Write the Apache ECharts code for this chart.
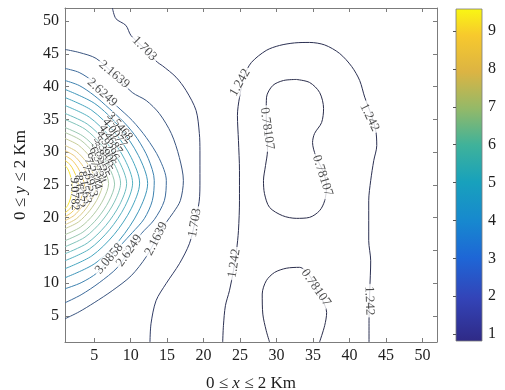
<!DOCTYPE html>
<html><head><meta charset="utf-8">
<style>html,body{margin:0;padding:0;background:#fff}#c{width:505px;height:390px}</style>
<script src="https://cdn.jsdelivr.net/npm/echarts@6/dist/echarts.min.js"></script>
</head><body><div id="c"></div>
<script>
// ---------------- data ----------------
const xTicks = [5, 10, 15, 20, 25, 30, 35, 40, 45, 50];
const yTicks = [5, 10, 15, 20, 25, 30, 35, 40, 45, 50];
const cbTicks = [1, 2, 3, 4, 5, 6, 7, 8, 9];
const cbRange = [0.82, 9.58];

const levelText = ['0.78107','1.242','1.703','2.1639','2.6249','3.0858','3.5468','4.0077','4.4687',
  '4.9296','5.3906','5.8515','6.3125','6.7734','7.2344','7.6953','8.1563','8.6172','9.0782'];

// contour polylines (x, y in km-grid units)
const c0781a = [[32.71,41.09],[34.53,40.63],[35.91,39.1],[36.45,36.65],[36.18,34.51],[35.21,32.83],[34.94,31.45],
  [35.36,29.46],[36.32,27.17],[36.87,24.88],[36.6,22.58],[35.91,21.06],[34.53,20.03],[32.71,19.88],[30.82,20.29],
  [29.04,21.56],[28.35,23.65],[28.21,25.64],[28.49,27.94],[28.76,30.23],[28.63,33.29],[28.59,36.35],[28.63,38.38],
  [29.49,40.17],[30.96,40.93],[32.71,41.09]];
const c0781b = [[29.04,1],[28.59,2.72],[28.12,5.26],[28.04,8.32],[28.59,10.35],[29.73,11.62],[31.33,12.26],
  [33.16,12.4],[34.5,11.2],[35.36,9.28],[36.3,7.4],[36.87,5.5],[36.6,3.5],[35.9,1]];
const c1242 = [[22.62,1],[22.72,3.49],[22.99,6.54],[23.54,8.82],[24.09,11.88],[24.51,14.94],[24.78,18.0],
  [24.92,22.58],[24.92,27.17],[24.78,31.76],[24.64,35.58],[24.92,38.33],[25.6,41.7],[26.57,43.7],[28.59,45.52],
  [30.41,46.28],[32.47,46.67],[34.53,46.74],[36.6,46.36],[38.65,45.06],[40.3,43.07],[41.4,40.93],[42.09,38.38],
  [42.78,36.35],[43.6,33.29],[43.74,31.0],[43.33,28.7],[42.91,25.64],[42.64,22.58],[42.64,16.47],[42.91,13.4],
  [42.78,8.82],[42.68,4.24],[42.68,1]];
const c1703 = [[7.5,52],[7.98,50.37],[9.35,49.34],[10.04,47.81],[11.9,45.8],[13.65,43.73],[14.34,43.2],
  [16.22,41.44],[17.6,39.4],[18.97,36.36],[19.42,32.83],[19.5,30.2],[19.5,25.6],[19.4,22.5],[18.8,19.2],
  [18.05,16.0],[16.68,12.95],[14.85,9.9],[13.48,7.3],[12.79,3.78],[12.65,1]];
const c2164 = [[1,45.67],[2.94,45.21],[5.27,44.3],[7.75,41.85],[10.22,39.1],[12.14,37.87],[13.93,35.89],
  [15.58,32.83],[16.68,29.16],[17.23,25.64],[16.81,22.58],[15.85,20.76],[14.85,19.22],[13.52,16.77],
  [12.14,14.02],[10.08,11.12],[7.47,8.83],[5.0,7.0],[2.94,5.61],[1,4.54]];
const c2625 = [[1,42.77],[2.94,42.16],[5.0,40.63],[6.1,39.1],[8.16,36.96],[10.22,34.82],[12.14,32.22],
  [13.93,29.0],[14.89,25.64],[14.62,22.58],[13.24,19.68],[11.46,17.54],[9.81,14.94],[8.16,12.34],
  [5.69,10.05],[3.21,8.21],[1,6.99]];
const c3086 = [[1,40.93],[2.94,40.17],[5.0,38.64],[7.06,36.65],[9.12,34.51],[10.91,32.06],[12.42,29.0],
  [13.24,25.64],[12.97,22.58],[11.87,19.83],[10.22,17.69],[8.71,15.86],[7.06,13.72],[5.41,11.57],
  [3.21,10.05],[1,9.13]];
const c3547 = [[1,39.57],[5.08,37.41],[8.47,33.82],[11.05,29.5],[12.33,25.19],[11.05,20.88],[8.47,16.56],[5.08,12.97],[1,10.81]];
const c4008 = [[1,38.33],[4.68,36.37],[7.74,33.1],[10.07,29.18],[11.23,25.26],[10.07,21.34],[7.74,17.42],[4.68,14.15],[1,12.19]];
const c4469 = [[1,37.11],[4.34,35.33],[7.11,32.37],[9.22,28.82],[10.27,25.26],[9.22,21.7],[7.11,18.15],[4.34,15.19],[1,13.41]];
const c4930 = [[1,35.9],[4.04,34.29],[6.57,31.62],[8.5,28.4],[9.45,25.19],[8.5,21.98],[6.57,18.76],[4.04,16.09],[1,14.48]];
const c5391 = [[1,34.97],[3.74,33.51],[6.02,31.09],[7.76,28.17],[8.62,25.26],[7.76,22.35],[6.02,19.43],[3.74,17.01],[1,15.55]];
const c5852 = [[1,33.75],[3.45,32.45],[5.48,30.29],[7.03,27.7],[7.8,25.11],[7.03,22.52],[5.48,19.93],[3.45,17.77],[1,16.47]];
const c6313 = [[1,32.99],[3.15,31.82],[4.94,29.87],[6.3,27.53],[6.98,25.19],[6.3,22.85],[4.94,20.51],[3.15,18.56],[1,17.39]];
const c6773 = [[1,32.08],[2.85,31.05],[4.39,29.32],[5.57,27.26],[6.15,25.19],[5.57,23.12],[4.39,21.06],[2.85,19.33],[1,18.3]];
const c7234 = [[1,31.01],[2.56,30.1],[3.85,28.59],[4.84,26.78],[5.33,24.96],[4.84,23.14],[3.85,21.33],[2.56,19.82],[1,18.91]];
const c7695 = [[1,30.23],[2.26,29.43],[3.31,28.09],[4.1,26.49],[4.5,24.88],[4.1,23.27],[3.31,21.67],[2.26,20.33],[1,19.53]];
const c8156 = [[1,29.47],[1.96,28.77],[2.77,27.6],[3.38,26.2],[3.68,24.8],[3.38,23.4],[2.77,22.0],[1.96,20.83],[1,20.13]];
const c8617 = [[1,28.71],[1.67,28.11],[2.22,27.12],[2.64,25.92],[2.85,24.73],[2.64,23.54],[2.22,22.34],[1.67,21.35],[1,20.75]];
const c9078 = [[1,27.94],[1.37,27.45],[1.68,26.62],[1.91,25.64],[2.03,24.65],[1.91,23.66],[1.68,22.68],[1.37,21.85],[1,21.36]];

// [level index, polyline]
const contourLines = [[0,c0781a],[0,c0781b],[1,c1242],[2,c1703],[3,c2164],[4,c2625],[5,c3086],[6,c3547],
  [7,c4008],[8,c4469],[9,c4930],[10,c5391],[11,c5852],[12,c6313],[13,c6773],[14,c7234],[15,c7695],
  [16,c8156],[17,c8617],[18,c9078]];

// inline labels: [level index, x, y, angle]
const outerLabels = [
  [0,28.7,33.6,-82],[0,36.3,26.4,-72],[0,35.4,9.3,-55],
  [1,25.0,40.6,60],[1,24.2,13.0,82],[1,42.75,35.3,-64],[1,42.72,7.3,-88],
  [2,11.9,45.8,-45],[2,18.8,19.2,80],
  [3,7.75,41.85,-40],[3,13.52,16.77,63],
  [4,6.1,39.1,-42],[4,9.81,14.94,55],
  [5,7.06,13.72,50]];
const clusterLabels = [
  [6,8.5,33.9,-50],[7,7.8,32.9,-53],[8,7.25,31.9,-56],[9,6.85,30.95,-58],[10,6.45,30.1,-60],
  [11,6.05,29.2,-62],[12,5.7,28.4,-64],[13,5.3,27.6,-67],[14,4.85,26.7,-70],[15,4.4,25.6,-75],
  [16,3.7,24.6,-80],[17,3.0,24.0,-85],[18,2.3,23.6,-88]];

// ---------------- styles ----------------
const lineColors = ['#2b2e4c','#2b3052','#323d66','#3a5580','#3d6b9c','#3d82b0','#3e96ba','#46a6c0','#56b2c2',
  '#6bbcc0','#82c4bb','#9ac9b2','#b2cca5','#c9cd97','#dccb87','#eac876','#f2cb5e','#f5d648','#f8e535'];
const parula = [[0,'#2f2a86'],[0.13,'#3344b8'],[0.25,'#1e66d6'],[0.36,'#1788cf'],[0.48,'#18a1bc'],
  [0.59,'#3fb29a'],[0.70,'#94b968'],[0.81,'#dcb443'],[0.92,'#f7c92d'],[1,'#f9f713']];
const serif = 'Liberation Serif';
const frame = '#7c7c7c';
const txt = '#1e1e1e';

const chart = echarts.init(document.getElementById('c'), null, {renderer: 'canvas'});

const series = contourLines.map(([k, pts]) => ({
  type: 'line', xAxisIndex: 0, yAxisIndex: 0, data: pts, symbol: 'none', smooth: 0.3,
  lineStyle: {width: 1, color: lineColors[k]}, silent: true, animation: false, z: 2
}));

series.push({
  type: 'scatter', xAxisIndex: 0, yAxisIndex: 0, symbolSize: 0, silent: true, animation: false, z: 5,
  data: outerLabels.map(([k, x, y, a]) => ({value: [x, y], label: {formatter: levelText[k], rotate: a}})),
  label: {show: true, position: 'inside', fontFamily: serif, fontSize: 13, color: txt,
    backgroundColor: '#fff', padding: [0, 2]}
});
series.push({
  type: 'scatter', xAxisIndex: 0, yAxisIndex: 0, symbolSize: 0, silent: true, animation: false, z: 6,
  data: clusterLabels.map(([k, x, y, a]) => ({value: [x, y], label: {formatter: levelText[k], rotate: a}})),
  label: {show: true, position: 'inside', fontFamily: serif, fontSize: 12, color: '#000',
    textBorderColor: '#fff', textBorderWidth: 1.5}
});
series.push({
  type: 'custom', xAxisIndex: 2, yAxisIndex: 2, silent: true, animation: false, z: 1,
  data: [[0, cbRange[0]]],
  renderItem: function (params, api) {
    const p0 = api.coord([0, cbRange[0]]);
    const p1 = api.coord([1, cbRange[1]]);
    return {
      type: 'rect',
      shape: {x: p0[0], y: p1[1], width: p1[0] - p0[0], height: p0[1] - p1[1]},
      style: {
        fill: new echarts.graphic.LinearGradient(0, 1, 0, 0, parula.map(s => ({offset: s[0], color: s[1]}))),
        stroke: frame, lineWidth: 0.8
      }
    };
  }
});

const tickStyle = {show: true, inside: true, length: 4, lineStyle: {color: frame, width: 1}};
const lineStyleAx = {show: true, onZero: false, lineStyle: {color: frame, width: 1}};
const nameStyle = {fontFamily: serif, fontSize: 17, color: txt,
  rich: {i: {fontFamily: serif, fontSize: 17, fontStyle: 'italic', color: txt}}};

chart.setOption({
  animation: false,
  backgroundColor: '#fff',
  grid: [
    {left: 65, top: 8, width: 372, height: 334, containLabel: false, outerBoundsMode: 'none'},
    {left: 456, top: 9, width: 26, height: 332, containLabel: false, outerBoundsMode: 'none'}
  ],
  xAxis: [
    {gridIndex: 0, type: 'value', min: 1, max: 52, position: 'bottom',
      axisLine: lineStyleAx, axisTick: Object.assign({customValues: xTicks}, tickStyle),
      axisLabel: {customValues: xTicks, fontFamily: serif, fontSize: 16, color: txt, margin: 6},
      splitLine: {show: false},
      name: '0 ≤ {i|x} ≤ 2 Km', nameLocation: 'middle', nameGap: 33, nameTextStyle: nameStyle},
    {gridIndex: 0, type: 'value', min: 1, max: 52, position: 'top',
      axisLine: lineStyleAx, axisTick: Object.assign({customValues: xTicks}, tickStyle),
      axisLabel: {show: false}, splitLine: {show: false}},
    {gridIndex: 1, type: 'value', min: 0, max: 1, show: false}
  ],
  yAxis: [
    {gridIndex: 0, type: 'value', min: 1, max: 52, position: 'left',
      axisLine: lineStyleAx, axisTick: Object.assign({customValues: yTicks}, tickStyle),
      axisLabel: {customValues: yTicks, fontFamily: serif, fontSize: 16, color: txt, margin: 6},
      splitLine: {show: false},
      name: '0 ≤ {i|y} ≤ 2 Km', nameLocation: 'middle', nameGap: 36, nameTextStyle: nameStyle},
    {gridIndex: 0, type: 'value', min: 1, max: 52, position: 'right',
      axisLine: lineStyleAx, axisTick: Object.assign({customValues: yTicks}, tickStyle),
      axisLabel: {show: false}, splitLine: {show: false}},
    {gridIndex: 1, type: 'value', min: cbRange[0], max: cbRange[1], position: 'right', z: 5,
      axisLine: {show: false},
      axisTick: {show: true, inside: true, length: 3, customValues: cbTicks, lineStyle: {color: '#555'}},
      axisLabel: {customValues: cbTicks, fontFamily: serif, fontSize: 16, color: txt, margin: 6},
      splitLine: {show: false}}
  ],
  series: series
});
</script>
</body></html>
